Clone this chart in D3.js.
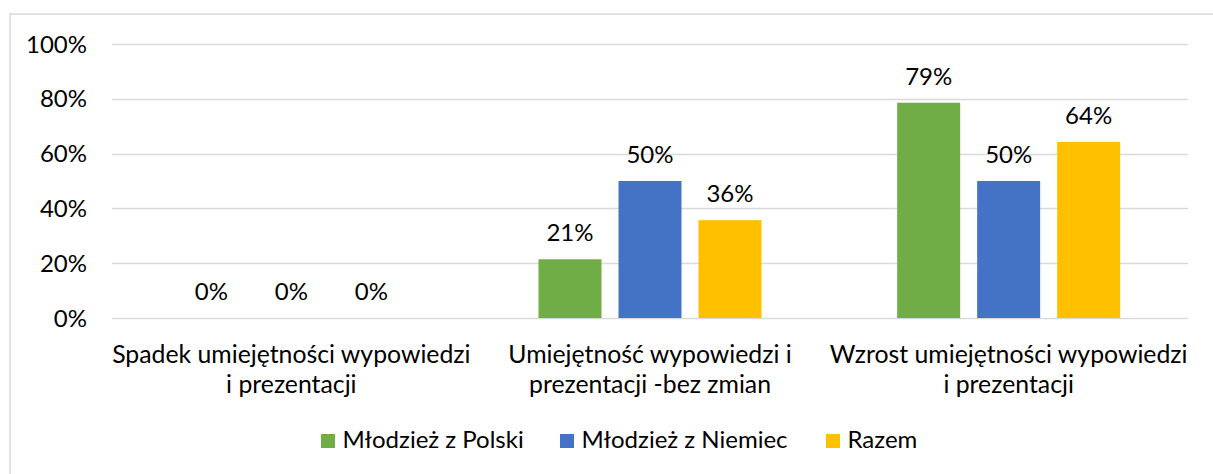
<!DOCTYPE html>
<html><head><meta charset="utf-8">
<script src="https://cdn.jsdelivr.net/npm/d3@7"></script>
<style>body{margin:0;background:#fff}svg text{font-family:Lato,"Liberation Sans",sans-serif;fill:#000}</style>
</head><body>
<script>
const categories = [["Spadek umiejętności wypowiedzi","i prezentacji"],["Umiejętność wypowiedzi i","prezentacji -bez zmian"],["Wzrost umiejętności wypowiedzi","i prezentacji"]];
const seriesNames = ["Młodzież z Polski","Młodzież z Niemiec","Razem"];
const polska = [0, 0.2143, 0.7857];
const niemcy = [0, 0.5, 0.5];
const razem = [0, 0.3571, 0.6429];
const yTicks = [0,0.2,0.4,0.6,0.8,1];
const colors = ["#70ad47","#4472c4","#ffc000"];

const W=1213,H=474,FS=24,FC=24.8;
const svg=d3.select("body").append("svg").attr("width",W).attr("height",H);
svg.append("rect").attr("x",10).attr("y",14).attr("width",W).attr("height",H).attr("fill","#fff").attr("stroke","#d9d9d9").attr("stroke-width",1.5);

const pL=112,pR=1188,pT=44,pB=318;
const x=d3.scaleBand().domain(d3.range(categories.length)).range([pL,pR]);
const xs=d3.scaleBand().domain(d3.range(3)).range([0,x.bandwidth()]).paddingInner(0.2125).paddingOuter(0.848);
const y=d3.scaleLinear().domain([0,1]).range([pB,pT]);

const grid=svg.append("g");
grid.selectAll("line").data(yTicks).join("line").attr("x1",pL).attr("x2",pR)
 .attr("y1",d=>Math.round(y(d))+0.5).attr("y2",d=>Math.round(y(d))+0.5).attr("stroke","#d9d9d9").attr("stroke-width",1.5);
svg.append("g").selectAll("text").data(yTicks).join("text").attr("x",87).attr("y",d=>y(d)+8.5)
 .attr("text-anchor","end").attr("font-size",FS).text(d=>d3.format(".0%")(d));

const series=[polska,niemcy,razem];
series.forEach((vals,si)=>{
  const g=svg.append("g");
  g.selectAll("rect").data(vals).join("rect")
   .attr("x",(d,i)=>x(i)+xs(si)).attr("width",xs.bandwidth())
   .attr("y",d=>y(d)).attr("height",d=>y(0)-y(d)).attr("fill",colors[si]);
  g.selectAll("text").data(vals).join("text")
   .attr("x",(d,i)=>x(i)+xs(si)+xs.bandwidth()/2).attr("y",d=>y(d)-18)
   .attr("text-anchor","middle").attr("font-size",FS).text(d=>d3.format(".0%")(d));
});

const cl=svg.append("g");
categories.forEach((lines,i)=>{
  const t=cl.append("text").attr("text-anchor","middle").attr("font-size",FC);
  lines.forEach((l,j)=>t.append("tspan").attr("x",x(i)+x.bandwidth()/2).attr("y",363+j*30).text(l));
});

const legX=[321,560,826];
const lg=svg.append("g");
seriesNames.forEach((n,i)=>{
  lg.append("rect").attr("x",legX[i]).attr("y",434).attr("width",14).attr("height",14).attr("fill",colors[i]);
  lg.append("text").attr("x",legX[i]+21.5).attr("y",448).attr("font-size",FS).text(n);
});
</script>
</body></html>
